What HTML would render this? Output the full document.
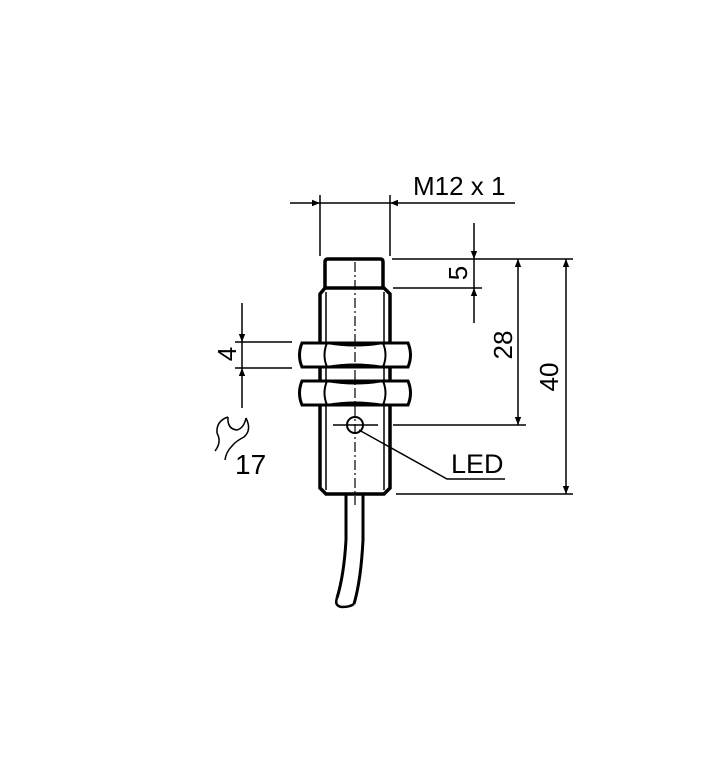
<!DOCTYPE html>
<html><head><style>body{margin:0;background:#fff}svg{display:block}text{font-family:"Liberation Sans",Arial,sans-serif;fill:#000}</style></head>
<body>
<svg width="709" height="780" viewBox="0 0 709 780" xmlns="http://www.w3.org/2000/svg">
<defs><marker id="a" viewBox="0 0 10 10" refX="10" refY="5" markerWidth="16" markerHeight="8" markerUnits="userSpaceOnUse" orient="auto"><path d="M0,1 L10,5 L0,9 z" fill="#000"/></marker></defs>
<g fill="none" stroke="#000">
<!-- cable -->
<path d="M346,494 L346,540 Q344,575 337,598" stroke-width="3"/>
<path d="M363,494 L363,540 Q361,580 354,604" stroke-width="3"/>
<path d="M337,598 Q334,606 342,607 Q350,607 354,604" stroke-width="2.5"/>
<!-- cap -->
<path d="M325,288 L325,262 Q325,259 328,259 L380,259 Q383,259 383,262 L383,288" stroke-width="3.5"/>
<!-- body -->
<path d="M325,288 L320,294 L320,488 L326,494 L384,494 L390,488 L390,294 L384,288 Z" stroke-width="3.5" fill="#fff"/>
<line x1="326" y1="292" x2="326" y2="490" stroke-width="1.5"/>
<line x1="384" y1="292" x2="384" y2="490" stroke-width="1.5"/>
<!-- nuts -->
<path d="M302,343 L408,343 Q413,355 408,367 L302,367 Q297,355 302,343 Z" stroke-width="3" fill="#fff"/>
<path d="M327,343 Q322,355 327,367 M383,343 Q388,355 383,367 M327,343 Q355,348 383,343 M327,367 Q355,362 383,367" stroke-width="2"/>
<path d="M302,381 L408,381 Q413,393 408,405 L302,405 Q297,393 302,381 Z" stroke-width="3" fill="#fff"/>
<path d="M327,381 Q322,393 327,405 M383,381 Q388,393 383,405 M327,381 Q355,386 383,381 M327,405 Q355,400 383,405" stroke-width="2"/>
<!-- centerline -->
<line x1="355" y1="262" x2="355" y2="505" stroke-width="1.2" stroke-dasharray="10,3,2,3"/>
<!-- LED -->
<circle cx="355" cy="425" r="8" stroke-width="2"/>
<line x1="333" y1="425" x2="378" y2="425" stroke-width="1.5"/>
<polyline points="359,430 447,479 505,479" stroke-width="1.5"/>
<!-- M12 -->
<line x1="320" y1="195" x2="320" y2="256" stroke-width="1.5"/>
<line x1="390" y1="195" x2="390" y2="256" stroke-width="1.5"/>
<line x1="290" y1="203" x2="320" y2="203" stroke-width="1.5" marker-end="url(#a)"/>
<line x1="320" y1="203" x2="390" y2="203" stroke-width="1.5"/>
<line x1="515" y1="203" x2="390" y2="203" stroke-width="1.5" marker-end="url(#a)"/>
<!-- extension lines right -->
<line x1="392" y1="259" x2="573" y2="259" stroke-width="1.5"/>
<line x1="393" y1="288" x2="482" y2="288" stroke-width="1.5"/>
<line x1="393" y1="425" x2="526" y2="425" stroke-width="1.5"/>
<line x1="396" y1="494" x2="573" y2="494" stroke-width="1.5"/>
<!-- 5 -->
<line x1="474" y1="223" x2="474" y2="259" stroke-width="1.5" marker-end="url(#a)"/>
<line x1="474" y1="259" x2="474" y2="288" stroke-width="1.5"/>
<line x1="474" y1="323" x2="474" y2="288" stroke-width="1.5" marker-end="url(#a)"/>
<!-- 28 -->
<line x1="518" y1="340" x2="518" y2="259" stroke-width="1.5" marker-end="url(#a)"/>
<line x1="518" y1="340" x2="518" y2="425" stroke-width="1.5" marker-end="url(#a)"/>
<!-- 40 -->
<line x1="566" y1="376" x2="566" y2="259" stroke-width="1.5" marker-end="url(#a)"/>
<line x1="566" y1="376" x2="566" y2="494" stroke-width="1.5" marker-end="url(#a)"/>
<!-- 4 -->
<line x1="235" y1="342" x2="292" y2="342" stroke-width="1.5"/>
<line x1="235" y1="368" x2="292" y2="368" stroke-width="1.5"/>
<line x1="242" y1="303" x2="242" y2="342" stroke-width="1.5" marker-end="url(#a)"/>
<line x1="242" y1="342" x2="242" y2="368" stroke-width="1.5"/>
<line x1="242" y1="408" x2="242" y2="368" stroke-width="1.5" marker-end="url(#a)"/>
<!-- wrench -->
<path d="M228,417 Q216,421 217,433 Q222,442 215,451 M246,418 Q252,430 244,437 Q236,441 232,446 Q226,452 225,460 M228,417 Q227,429 237,430 Q244,428 246,418" stroke-width="1.5"/>
</g>
<text x="413" y="195" font-size="26">M12 x 1</text>
<text x="451" y="473" font-size="27">LED</text>
<text x="235" y="474" font-size="28">17</text>
<text transform="translate(467,273) rotate(-90)" text-anchor="middle" font-size="26">5</text>
<text transform="translate(512,345) rotate(-90)" text-anchor="middle" font-size="26">28</text>
<text transform="translate(558,377) rotate(-90)" text-anchor="middle" font-size="26">40</text>
<text transform="translate(236,354) rotate(-90)" text-anchor="middle" font-size="26">4</text>
</svg>
</body></html>
